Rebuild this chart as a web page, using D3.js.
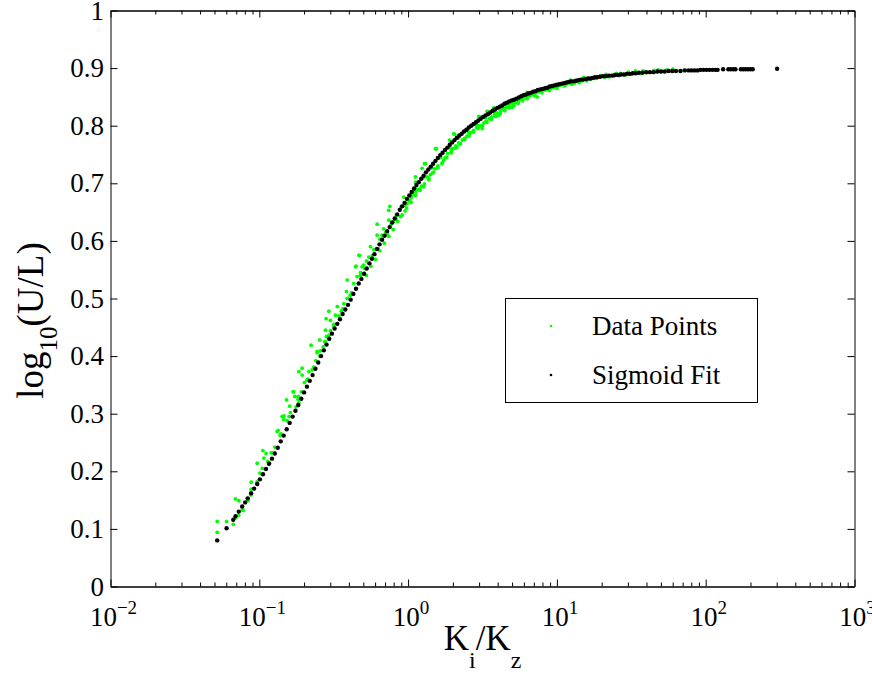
<!DOCTYPE html>
<html>
<head>
<meta charset="utf-8">
<script src="https://cdn.jsdelivr.net/npm/d3@7"></script>
<style>
  html, body { margin: 0; padding: 0; background: #fff; }
  svg { display: block; }
  svg text { font-family: "Liberation Serif", "Times New Roman", Times, serif; }
</style>
</head>
<body>
<div id="chart"></div>
<script>
// x values are stored as log10(Ki/Kz), y values as log10(U/L)
const dataPoints = [
  [-1.283,0.113],[-1.283,0.094],[-1.220,0.113],[-1.175,0.108],[-1.160,0.152],[-1.138,0.149],
  [-1.160,0.119],[-1.138,0.124],[-1.115,0.133],[-1.108,0.132],[-1.075,0.149],[-1.055,0.181],
  [-1.055,0.169],[-1.055,0.159],[-1.078,0.150],[-1.014,0.214],[-1.014,0.182],[-0.996,0.197],
  [-0.976,0.236],[-0.969,0.223],[-0.954,0.231],[-0.943,0.217],[-0.930,0.214],[-0.914,0.232],
  [-0.896,0.242],[-0.880,0.269],[-0.874,0.271],[-0.854,0.265],[-0.847,0.295],[-0.835,0.296],
  [-0.835,0.290],[-0.817,0.324],[-0.813,0.288],[-0.796,0.313],[-0.791,0.302],[-0.773,0.338],
  [-0.769,0.338],[-0.762,0.330],[-0.753,0.312],[-0.739,0.330],[-0.734,0.319],[-0.717,0.338],
  [-0.712,0.367],[-0.734,0.373],[-0.712,0.379],[-0.697,0.354],[-0.674,0.360],[-0.667,0.373],
  [-0.652,0.419],[-0.645,0.376],[-0.634,0.381],[-0.611,0.406],[-0.611,0.408],[-0.594,0.400],
  [-0.594,0.428],[-0.589,0.409],[-0.571,0.416],[-0.555,0.425],[-0.555,0.445],[-0.551,0.465],
  [-0.549,0.434],[-0.533,0.436],[-0.533,0.478],[-0.522,0.444],[-0.522,0.462],[-0.500,0.455],
  [-0.488,0.471],[-0.476,0.486],[-0.465,0.470],[-0.450,0.478],[-0.432,0.491],[-0.414,0.512],
  [-0.409,0.532],[-0.409,0.500],[-0.390,0.505],[-0.365,0.526],[-0.353,0.555],[-0.350,0.556],
  [-0.343,0.538],[-0.331,0.575],[-0.327,0.575],[-0.320,0.545],[-0.309,0.555],[-0.300,0.558],
  [-0.290,0.552],[-0.280,0.565],[-0.264,0.572],[-0.253,0.590],[-0.240,0.575],[-0.230,0.585],
  [-0.208,0.629],[-0.208,0.610],[-0.190,0.603],[-0.175,0.610],[-0.164,0.621],[-0.150,0.615],
  [-0.130,0.653],[-0.123,0.660],[-0.130,0.636],[-0.115,0.628],[-0.100,0.633],[-0.080,0.645],
  [-0.051,0.642],[-0.045,0.660],[-0.029,0.676],[-0.020,0.652],[-0.006,0.665],[0.010,0.670],
  [0.020,0.675],[0.030,0.680],[0.049,0.711],[0.050,0.702],[0.050,0.685],[0.060,0.690],
  [0.071,0.689],[0.080,0.690],[0.094,0.726],[0.090,0.695],[0.110,0.734],[0.117,0.734],
  [0.105,0.694],[0.128,0.711],[0.140,0.706],[0.150,0.715],[0.165,0.718],[0.184,0.760],
  [0.190,0.760],[0.180,0.725],[0.200,0.730],[0.210,0.745],[0.228,0.734],[0.240,0.740],
  [0.250,0.745],[0.265,0.752],[0.278,0.775],[0.290,0.757],[0.307,0.786],[0.312,0.785],
  [0.300,0.760],[0.320,0.765],[0.329,0.763],[0.340,0.770],[0.352,0.769],[0.365,0.775],
  [0.380,0.778],[0.395,0.782],[0.410,0.786],[0.430,0.801],[0.420,0.788],[0.440,0.792],
  [0.460,0.797],[0.475,0.816],[0.487,0.815],[0.480,0.800],[0.498,0.795],[0.510,0.805],
  [0.531,0.825],[0.525,0.808],[0.545,0.812],[0.560,0.815],[0.576,0.831],[0.580,0.818],
  [0.609,0.818],[0.600,0.822],[0.620,0.826],[0.640,0.829],[0.654,0.839],[0.665,0.838],
  [0.660,0.832],[0.680,0.835],[0.699,0.832],[0.700,0.838],[0.720,0.840],[0.740,0.843],
  [0.760,0.846],[0.780,0.848],[0.800,0.858],[0.800,0.850],[0.820,0.852],[0.840,0.854],
  [0.868,0.850],[0.860,0.857],[0.880,0.859],[0.900,0.861],[0.920,0.862],[0.940,0.864],
  [0.960,0.865],[0.979,0.870],[0.980,0.866],[1.000,0.868],[1.020,0.870],[1.040,0.872],
  [1.060,0.873],[1.091,0.879],[1.080,0.874],[1.110,0.876],[1.140,0.877],[1.181,0.884],
  [1.170,0.878],[1.200,0.880],[1.230,0.881],[1.260,0.882],[1.293,0.887],[1.320,0.884],
  [1.350,0.885],[1.380,0.886],[1.427,0.891],[1.420,0.887],[1.460,0.888],[1.500,0.889],
  [1.528,0.895],[1.560,0.891],[1.600,0.892],[1.651,0.896],[1.700,0.894],[1.740,0.897],
  [1.800,0.895],[1.850,0.896],
  [-0.980,0.205],[-0.920,0.232],[-0.860,0.262],[-0.800,0.295],[-0.740,0.325],[-0.680,0.358],
  [-0.620,0.392],[-0.560,0.425],[-0.500,0.452],[-0.440,0.482],[-0.380,0.510],[-0.320,0.540],
  [-0.280,0.540],[-0.250,0.556],[-0.220,0.568],[-0.190,0.583],[-0.160,0.596],[-0.130,0.608],
  [-0.100,0.620],[-0.070,0.634],[-0.040,0.645],[-0.010,0.657],[0.020,0.667],[0.050,0.679],
  [0.080,0.688],[0.110,0.699],[0.140,0.709],[0.170,0.719],[0.200,0.727],[0.230,0.736],
  [0.260,0.745],[0.290,0.753],[0.320,0.761],[0.350,0.768],[0.380,0.776],[0.410,0.782],
  [0.440,0.789],[0.470,0.795],[0.500,0.800],[0.530,0.806],[0.560,0.811],[0.590,0.816],
  [0.620,0.821],[0.650,0.826],[0.680,0.831],[0.710,0.835],[0.740,0.839],[0.770,0.843],
  [0.800,0.847],[0.850,0.852],[0.900,0.857],[0.950,0.861],[1.000,0.865],[1.050,0.869],
  [1.100,0.872],[1.150,0.875],[1.200,0.878],
  [-0.200,0.586],[-0.140,0.613],[-0.080,0.638],[-0.020,0.662],[0.040,0.687],[0.100,0.709],
  [0.160,0.727],[0.220,0.745],[0.280,0.763],[0.340,0.779],[0.400,0.791],[0.460,0.802],
  [0.520,0.814],[0.580,0.823],[0.640,0.831],[0.700,0.840],[0.760,0.847],[0.820,0.853],
  [0.880,0.859],[0.940,0.863],[1.000,0.867],[1.060,0.871],[1.120,0.874],
  [1.330,0.889],[1.400,0.891],[1.480,0.893],[1.580,0.895],[1.680,0.897],[1.780,0.898]
];

const sigmoidFit = [
  [-1.283,0.080],[-1.220,0.101],[-1.175,0.116],[-1.160,0.122],[-1.138,0.130],[-1.115,0.139],
  [-1.095,0.146],[-1.078,0.153],[-1.055,0.162],[-1.035,0.170],[-1.014,0.178],[-0.996,0.186],
  [-0.975,0.195],[-0.955,0.204],[-0.935,0.213],[-0.915,0.222],[-0.896,0.231],[-0.876,0.241],
  [-0.856,0.252],[-0.836,0.262],[-0.816,0.273],[-0.796,0.284],[-0.776,0.295],[-0.757,0.305],
  [-0.738,0.315],[-0.718,0.326],[-0.699,0.337],[-0.680,0.347],[-0.661,0.357],[-0.642,0.367],
  [-0.623,0.378],[-0.604,0.389],[-0.585,0.400],[-0.566,0.410],[-0.548,0.420],[-0.530,0.430],
  [-0.512,0.439],[-0.494,0.448],[-0.476,0.456],[-0.458,0.464],[-0.440,0.473],[-0.422,0.481],
  [-0.404,0.489],[-0.386,0.498],[-0.368,0.508],[-0.350,0.517],[-0.332,0.526],[-0.314,0.534],
  [-0.296,0.543],[-0.278,0.552],[-0.260,0.561],[-0.243,0.569],[-0.226,0.577],[-0.209,0.586],
  [-0.192,0.594],[-0.175,0.602],[-0.158,0.609],[-0.141,0.617],[-0.124,0.624],[-0.107,0.632],
  [-0.090,0.639],[-0.073,0.646],[-0.056,0.654],[-0.040,0.660],[-0.024,0.666],[-0.008,0.673],
  [0.008,0.679],[0.024,0.685],[0.040,0.691],[0.056,0.697],[0.072,0.702],[0.088,0.708],
  [0.104,0.713],[0.120,0.719],[0.136,0.724],[0.152,0.729],[0.168,0.734],[0.184,0.739],
  [0.200,0.744],[0.216,0.749],[0.232,0.753],[0.248,0.758],[0.264,0.762],[0.280,0.767],
  [0.296,0.771],[0.312,0.775],[0.328,0.779],[0.344,0.783],[0.360,0.786],[0.376,0.790],
  [0.392,0.793],[0.408,0.797],[0.424,0.800],[0.440,0.803],[0.456,0.806],[0.472,0.809],
  [0.488,0.812],[0.504,0.815],[0.520,0.818],[0.536,0.820],[0.552,0.823],[0.568,0.826],
  [0.584,0.828],[0.600,0.831],[0.616,0.833],[0.632,0.835],[0.648,0.838],[0.664,0.840],
  [0.680,0.842],[0.696,0.844],[0.712,0.845],[0.728,0.847],[0.744,0.849],[0.760,0.851],
  [0.776,0.853],[0.792,0.854],[0.808,0.856],[0.824,0.857],[0.840,0.859],[0.856,0.860],
  [0.872,0.862],[0.888,0.863],[0.904,0.864],[0.920,0.865],[0.936,0.866],[0.952,0.868],
  [0.968,0.869],[0.984,0.870],[1.000,0.871],[1.016,0.872],[1.032,0.873],[1.048,0.874],
  [1.064,0.875],[1.080,0.876],[1.096,0.877],[1.112,0.877],[1.128,0.878],[1.144,0.879],
  [1.160,0.880],[1.176,0.880],[1.192,0.881],[1.208,0.882],[1.224,0.882],[1.240,0.883],
  [1.256,0.884],[1.272,0.884],[1.290,0.885],[1.310,0.886],[1.330,0.886],[1.350,0.887],
  [1.370,0.887],[1.390,0.888],[1.410,0.888],[1.430,0.889],[1.450,0.889],[1.470,0.890],
  [1.490,0.890],[1.510,0.891],[1.530,0.891],[1.550,0.892],[1.575,0.892],[1.600,0.893],
  [1.625,0.893],[1.650,0.893],[1.675,0.894],[1.700,0.894],[1.725,0.894],[1.750,0.895],
  [1.775,0.895],[1.800,0.895],[1.830,0.895],[1.860,0.896],[1.885,0.896],[1.905,0.896],
  [1.925,0.896],[1.945,0.896],[1.965,0.897],[1.985,0.897],[2.005,0.897],[2.025,0.897],
  [2.045,0.897],[2.065,0.897],[2.080,0.897],[2.117,0.898],[2.152,0.898],[2.168,0.898],
  [2.185,0.898],[2.200,0.898],[2.236,0.898],[2.252,0.898],[2.268,0.898],[2.284,0.898],
  [2.300,0.898],[2.316,0.898],[2.480,0.899]
];

const xMajorTicks = [0.01, 0.1, 1, 10, 100, 1000];
const xTickExponents = ['-2', '-1', '0', '1', '2', '3'];
const yTicks = [0, 0.1, 0.2, 0.3, 0.4, 0.5, 0.6, 0.7, 0.8, 0.9, 1];
const yTickLabels = ['0', '0.1', '0.2', '0.3', '0.4', '0.5', '0.6', '0.7', '0.8', '0.9', '1'];
const seriesNames = ['Data Points', 'Sigmoid Fit'];
const seriesColors = ['#00ff00', '#000000'];

const width = 872;
const height = 675;
const plot = { left: 110.5, right: 854.5, top: 10.5, bottom: 586.5 };
const serif = '"Liberation Serif", "Times New Roman", Times, serif';

let svg, xScale, yScale;

function buildScales() {
    xScale = d3.scaleLog()
        .domain([xMajorTicks[0], xMajorTicks[xMajorTicks.length - 1]])
        .range([plot.left, plot.right]);
    yScale = d3.scaleLinear()
        .domain([0, 1])
        .range([plot.bottom, plot.top]);
}

function buildSVG() {
    svg = d3.select('#chart')
      .append('svg')
        .attr('width', width)
        .attr('height', height)
        .attr('font-family', serif);
}

function drawAxes() {
    const minorTicks = xScale.ticks().filter(d => !xMajorTicks.includes(d));
    const axes = svg.append('g').classed('axes', true);

    const bottom = axes.append('g').attr('transform', `translate(0,${plot.bottom})`);
    bottom.call(d3.axisBottom(xScale).tickValues(xMajorTicks).tickSize(-7).tickSizeOuter(0).tickFormat(''));
    bottom.append('g').call(d3.axisBottom(xScale).tickValues(minorTicks).tickSize(-4).tickSizeOuter(0).tickFormat(''));

    const top = axes.append('g').attr('transform', `translate(0,${plot.top})`);
    top.call(d3.axisTop(xScale).tickValues(xMajorTicks).tickSize(-7).tickSizeOuter(0).tickFormat(''));
    top.append('g').call(d3.axisTop(xScale).tickValues(minorTicks).tickSize(-4).tickSizeOuter(0).tickFormat(''));

    axes.append('g').attr('transform', `translate(${plot.left},0)`)
        .call(d3.axisLeft(yScale).tickValues(yTicks).tickSize(-7).tickSizeOuter(0).tickFormat(''));
    axes.append('g').attr('transform', `translate(${plot.right},0)`)
        .call(d3.axisRight(yScale).tickValues(yTicks).tickSize(-7).tickSizeOuter(0).tickFormat(''));

    axes.selectAll('path.domain').attr('stroke', '#000').attr('stroke-width', 1);
    axes.selectAll('.tick line').attr('stroke', '#000').attr('stroke-width', 1);

    // tick labels
    const xLabels = svg.append('g').classed('x-labels', true)
        .selectAll('text').data(xMajorTicks).enter()
      .append('text')
        .attr('x', d => xScale(d) + 3)
        .attr('y', 626)
        .attr('text-anchor', 'middle')
        .attr('font-family', serif)
        .attr('font-size', 27)
        .attr('fill', '#000');
    xLabels.append('tspan').text('10');
    xLabels.append('tspan')
        .attr('dy', -12)
        .attr('font-size', 19)
        .text((d, i) => xTickExponents[i].replace('-', '\u2212'));

    svg.append('g').classed('y-labels', true)
        .selectAll('text').data(yTicks).enter()
      .append('text')
        .attr('x', 104)
        .attr('y', d => yScale(d))
        .attr('dy', '0.34em')
        .attr('text-anchor', 'end')
        .attr('font-family', serif)
        .attr('font-size', 27)
        .attr('fill', '#000')
        .text((d, i) => yTickLabels[i]);

    // axis titles
    const xTitle = svg.append('text')
        .attr('x', (plot.left + plot.right) / 2)
        .attr('y', 650)
        .attr('text-anchor', 'middle')
        .attr('font-family', serif)
        .attr('font-size', 35);
    xTitle.append('tspan').text('K');
    xTitle.append('tspan').attr('dy', 18).attr('font-size', 24).text('i');
    xTitle.append('tspan').attr('dy', -18).text('/K');
    xTitle.append('tspan').attr('dy', 18).attr('font-size', 24).text('z');

    const yTitle = svg.append('text')
        .attr('transform', `translate(43,${(plot.top + plot.bottom) / 2 + 22}) rotate(-90)`)
        .attr('text-anchor', 'middle')
        .attr('font-family', serif)
        .attr('font-size', 37);
    yTitle.append('tspan').text('log');
    yTitle.append('tspan').attr('dy', 14).attr('font-size', 25).text('10');
    yTitle.append('tspan').attr('dy', -14).text('(U/L)');
}

function drawPoints() {
    const chart = svg.append('g').classed('chart-group', true);

    chart.append('g').selectAll('circle').data(dataPoints).enter()
      .append('circle')
        .attr('cx', d => xScale(Math.pow(10, d[0])))
        .attr('cy', d => yScale(d[1]))
        .attr('r', 1.9)
        .attr('fill', seriesColors[0]);

    chart.append('g').selectAll('circle').data(sigmoidFit).enter()
      .append('circle')
        .attr('cx', d => xScale(Math.pow(10, d[0])))
        .attr('cy', d => yScale(d[1]))
        .attr('r', 2.2)
        .attr('fill', seriesColors[1]);
}

function drawLegend() {
    const legend = svg.append('g').classed('legend', true);
    legend.append('rect')
        .attr('x', 505.5).attr('y', 298.5)
        .attr('width', 252).attr('height', 104)
        .attr('fill', '#fff').attr('stroke', '#000').attr('stroke-width', 1);

    const items = legend.selectAll('g.item').data(seriesNames).enter()
      .append('g')
        .classed('item', true)
        .attr('transform', (d, i) => `translate(0,${326 + i * 49})`);
    items.append('circle')
        .attr('cx', 551).attr('cy', 0).attr('r', 1.3)
        .attr('fill', (d, i) => seriesColors[i]);
    items.append('text')
        .attr('x', 592).attr('y', 9)
        .attr('font-family', serif)
        .attr('font-size', 27)
        .text(d => d);
}

buildScales();
buildSVG();
drawPoints();
drawAxes();
drawLegend();
</script>
</body>
</html>
